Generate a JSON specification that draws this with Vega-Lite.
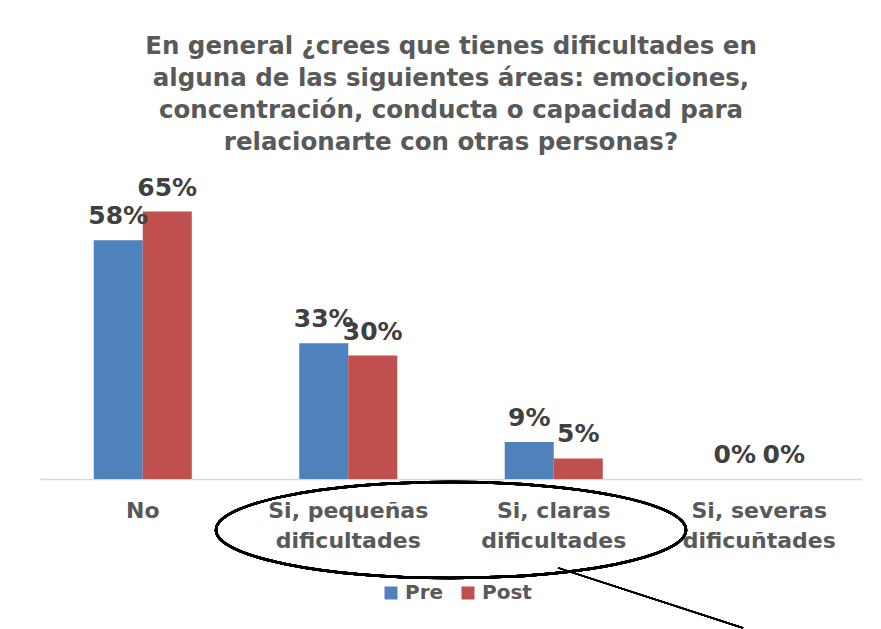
{
  "$schema": "https://vega.github.io/schema/vega-lite/v6.json",
  "width": 822,
  "height": 288,
  "autosize": "none",
  "padding": {"left": 40, "top": 191, "right": 19, "bottom": 150},
  "background": "white",
  "config": {"view": {"stroke": null}, "font": "DejaVu Sans"},
  "title": {
    "text": ["En general ¿crees que tienes dificultades en", "alguna de las siguientes áreas: emociones,", "concentración, conducta o capacidad para", "relacionarte con otras personas?"],
    "font": "DejaVu Sans",
    "fontSize": 24.5,
    "fontWeight": "bold",
    "color": "#595959",
    "lineHeight": 32,
    "anchor": "middle",
    "frame": "group",
    "offset": 20
  },
  "data": {
    "values": [
      {"categoria": "No", "grupo": "Pre", "valor": 58, "etiqueta": "58%"},
      {"categoria": "No", "grupo": "Post", "valor": 65, "etiqueta": "65%"},
      {"categoria": "Si, pequeñas dificultades", "grupo": "Pre", "valor": 33, "etiqueta": "33%"},
      {"categoria": "Si, pequeñas dificultades", "grupo": "Post", "valor": 30, "etiqueta": "30%"},
      {"categoria": "Si, claras dificultades", "grupo": "Pre", "valor": 9, "etiqueta": "9%"},
      {"categoria": "Si, claras dificultades", "grupo": "Post", "valor": 5, "etiqueta": "5%"},
      {"categoria": "Si, severas dificuñtades", "grupo": "Pre", "valor": 0, "etiqueta": "0%"},
      {"categoria": "Si, severas dificuñtades", "grupo": "Post", "valor": 0, "etiqueta": "0%"}
    ]
  },
  "encoding": {
    "x": {
      "field": "categoria",
      "type": "nominal",
      "sort": null,
      "scale": {"paddingInner": 0.523, "paddingOuter": 0.2615},
      "axis": {
        "title": null,
        "labelAngle": 0,
        "labelFont": "DejaVu Sans",
        "labelFontSize": 22,
        "labelFontWeight": "bold",
        "labelColor": "#595959",
        "labelLineHeight": 30,
        "labelPadding": 21,
        "ticks": false,
        "domainColor": "#D9D9D9",
        "domainWidth": 1.5,
        "labelExpr": "indexof(datum.label, ' dif') > 0 ? [substring(datum.label, 0, indexof(datum.label, ' dif')), substring(datum.label, indexof(datum.label, ' dif') + 1)] : datum.label"
      }
    },
    "y": {
      "field": "valor",
      "type": "quantitative",
      "scale": {"domain": [0, 70], "nice": false},
      "axis": null
    }
  },
  "layer": [
    {
      "mark": {"type": "bar"},
      "encoding": {
        "xOffset": {"field": "grupo", "type": "nominal", "sort": ["Pre", "Post"]},
        "color": {
          "field": "grupo",
          "type": "nominal",
          "sort": ["Pre", "Post"],
          "scale": {"domain": ["Pre", "Post"], "range": ["#4F81BD", "#C0504D"]},
          "legend": {
            "title": null,
            "orient": "none",
            "legendX": 341,
            "legendY": 392,
            "direction": "horizontal",
            "symbolType": "square",
            "symbolSize": 169,
            "symbolStrokeWidth": 0,
            "labelFont": "DejaVu Sans",
            "labelFontSize": 20,
            "labelFontWeight": "bold",
            "labelColor": "#595959",
            "labelOffset": 4,
            "columnPadding": 14
          }
        }
      }
    },
    {
      "mark": {"type": "text", "baseline": "alphabetic", "dy": -16, "font": "DejaVu Sans", "fontSize": 25, "fontWeight": "bold", "color": "#404040"},
      "encoding": {
        "xOffset": {"field": "grupo", "type": "nominal", "sort": ["Pre", "Post"]},
        "text": {"field": "etiqueta", "type": "nominal"}
      }
    },
    {
      "mark": {
        "type": "point",
        "shape": "M -1 0 A 1 0.204 0 1 1 1 0 A 1 0.204 0 1 1 -1 0 Z",
        "size": 220900,
        "filled": false,
        "stroke": "black",
        "strokeWidth": 2.5,
        "opacity": 1
      },
      "encoding": {
        "x": null,
        "y": {"datum": -12.4, "type": "quantitative"}
      }
    },
    {
      "mark": {"type": "rule", "color": "black", "strokeWidth": 1.5},
      "encoding": {
        "x": {"datum": "Si, claras dificultades", "type": "nominal", "bandPosition": 0.544},
        "x2": {"datum": "Si, severas dificuñtades", "bandPosition": 0.335},
        "y": {"datum": -21.6, "type": "quantitative"},
        "y2": {"datum": -36.2}
      }
    }
  ]
}
